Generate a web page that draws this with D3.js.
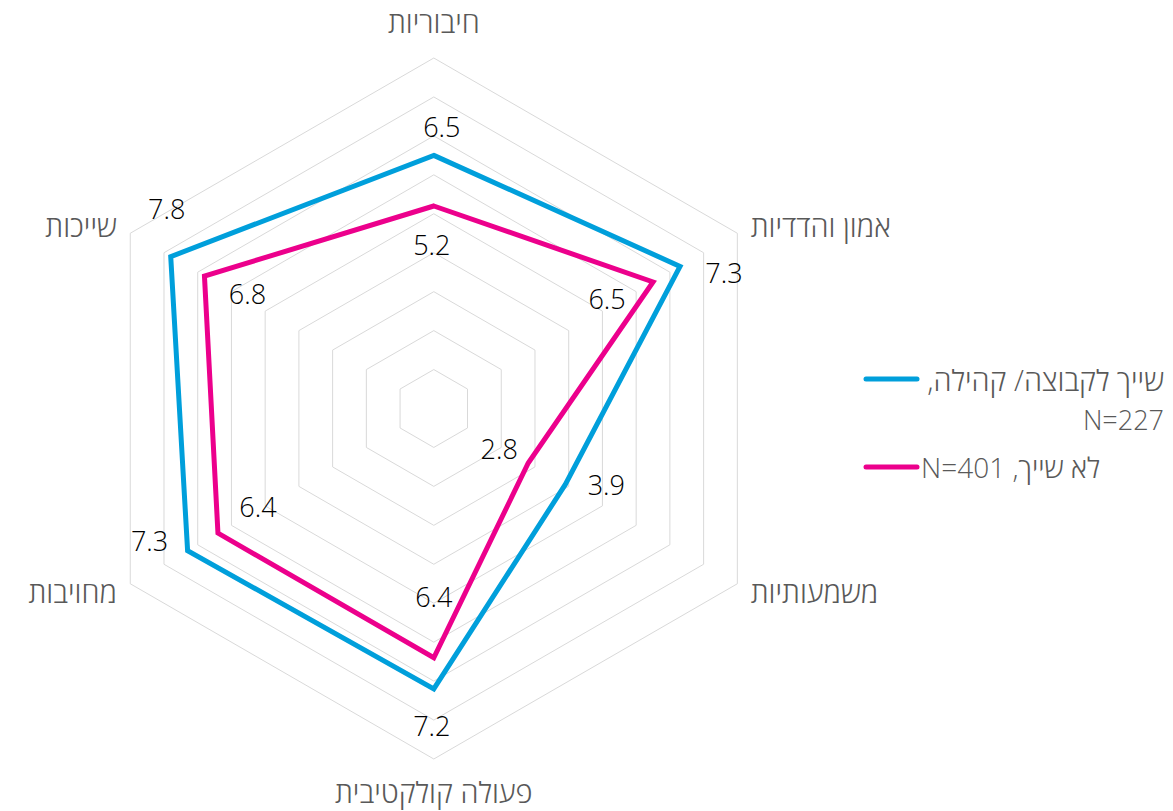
<!DOCTYPE html>
<html>
<head>
<meta charset="utf-8">
<script src="https://cdn.jsdelivr.net/npm/d3@7"></script>
<style>
  body { margin: 0; background: #fff; }
  text { font-family: "Open Sans", "Segoe UI", sans-serif; font-weight: 300; }
</style>
</head>
<body>
<svg id="chart"></svg>
<script>
// Categories, clockwise from the top
var categories = ["חיבוריות", "אמון והדדיות", "משמעותיות", "פעולה קולקטיבית", "מחויבות", "שייכות"];

// Series values
var belongValues = [6.5, 7.3, 3.9, 7.2, 7.3, 7.8];
var notBelongValues = [5.2, 6.5, 2.8, 6.4, 6.4, 6.8];

// Series names
var seriesNames = ["שייך לקבוצה/ קהילה,", "לא שייך, N=401"];
var seriesSub = "N=227";

// Grid levels
var levels = [1, 2, 3, 4, 5, 6, 7, 8, 9];

// SVG size params
var width = 1173;
var height = 811;
var cx = 433.8, cy = 408.5;
var colors = ["#009fdb", "#ec008c"];

var svg = d3.select("#chart")
    .attr("width", width)
    .attr("height", height);

var r = d3.scaleLinear()
          .domain([0, 9])
          .range([0, 350.5]);

var angle = d3.scaleLinear()
          .domain([0, categories.length])
          .range([0, 2 * Math.PI]);

function pt(i, v) {
  var a = angle(i) - Math.PI / 2;
  return [cx + r(v) * Math.cos(a), cy + r(v) * Math.sin(a)];
}

// Hexagon grid
svg.append("g").selectAll("path")
  .data(levels)
  .enter().append("path")
    .attr("d", function(l) {
      return d3.line()(categories.map(function(c, i) { return pt(i, l); })) + "Z";
    })
    .attr("fill", "none")
    .attr("stroke", "#d9d9d9")
    .attr("stroke-width", 1);

// Category labels
svg.append("g").selectAll("text")
  .data(categories)
  .enter().append("text")
    .attr("x", function(d, i) {
      var a = angle(i) - Math.PI / 2;
      return cx + 366 * Math.cos(a);
    })
    .attr("y", function(d, i) {
      var a = angle(i) - Math.PI / 2;
      var extra = (i == 0 ? -21 : (i == 3 ? 17 : 0));
      return cy + 366 * Math.sin(a) + extra;
    })
    .attr("text-anchor", function(d, i) {
      if (i == 0 || i == 3) return "middle";
      return i < 3 ? "start" : "end";
    })
    .attr("dominant-baseline", "central")
    .attr("fill", "#595959")
    .attr("font-size", 29)
    .text(d => d);

// Series lines
var series = [belongValues, notBelongValues];
svg.append("g").selectAll("path")
  .data(series)
  .enter().append("path")
    .attr("d", function(vals) {
      return d3.line()(vals.map(function(v, i) { return pt(i, v); })) + "Z";
    })
    .attr("fill", "none")
    .attr("stroke", (d, i) => colors[i])
    .attr("stroke-width", 5)
    .attr("stroke-linejoin", "miter");

// Data label offsets from their points
var labelOffsets = [
  [[8, -29], [44, 6], [41, 0], [-2, 37], [-38, -10], [-4, -48]],
  [[-2, 39], [-46, 17], [-29, -15], [0, -61], [40, -27], [43, 17]]
];

series.forEach(function(vals, s) {
  svg.append("g").selectAll("text")
    .data(vals)
    .enter().append("text")
      .attr("x", (v, i) => pt(i, v)[0] + labelOffsets[s][i][0])
      .attr("y", (v, i) => pt(i, v)[1] + labelOffsets[s][i][1])
      .attr("text-anchor", "middle")
      .attr("dominant-baseline", "central")
      .attr("fill", "#000")
      .attr("font-size", 27)
      .text(v => v.toFixed(1));
});

// Legend
var legend = svg.append("g");
var legendY = [379, 467];
legend.selectAll("line")
  .data(legendY)
  .enter().append("line")
    .attr("x1", 866)
    .attr("x2", 917)
    .attr("y1", d => d)
    .attr("y2", d => d)
    .attr("stroke", (d, i) => colors[i])
    .attr("stroke-width", 5)
    .attr("stroke-linecap", "round");

legend.append("text")
    .attr("x", 1164)
    .attr("y", legendY[0])
    .attr("direction", "rtl")
    .attr("text-anchor", "start")
    .attr("dominant-baseline", "central")
    .attr("fill", "#595959")
    .attr("font-size", 29)
    .text(seriesNames[0]);

legend.append("text")
    .attr("x", 1164)
    .attr("y", legendY[0] + 40)
    .attr("direction", "rtl")
    .attr("text-anchor", "start")
    .attr("dominant-baseline", "central")
    .attr("fill", "#595959")
    .attr("font-size", 27)
    .text(seriesSub);

legend.append("text")
    .attr("x", 921)
    .attr("y", legendY[1])
    .attr("direction", "rtl")
    .attr("text-anchor", "end")
    .attr("dominant-baseline", "central")
    .attr("fill", "#595959")
    .attr("font-size", 28)
    .text(seriesNames[1]);
</script>
</body>
</html>
